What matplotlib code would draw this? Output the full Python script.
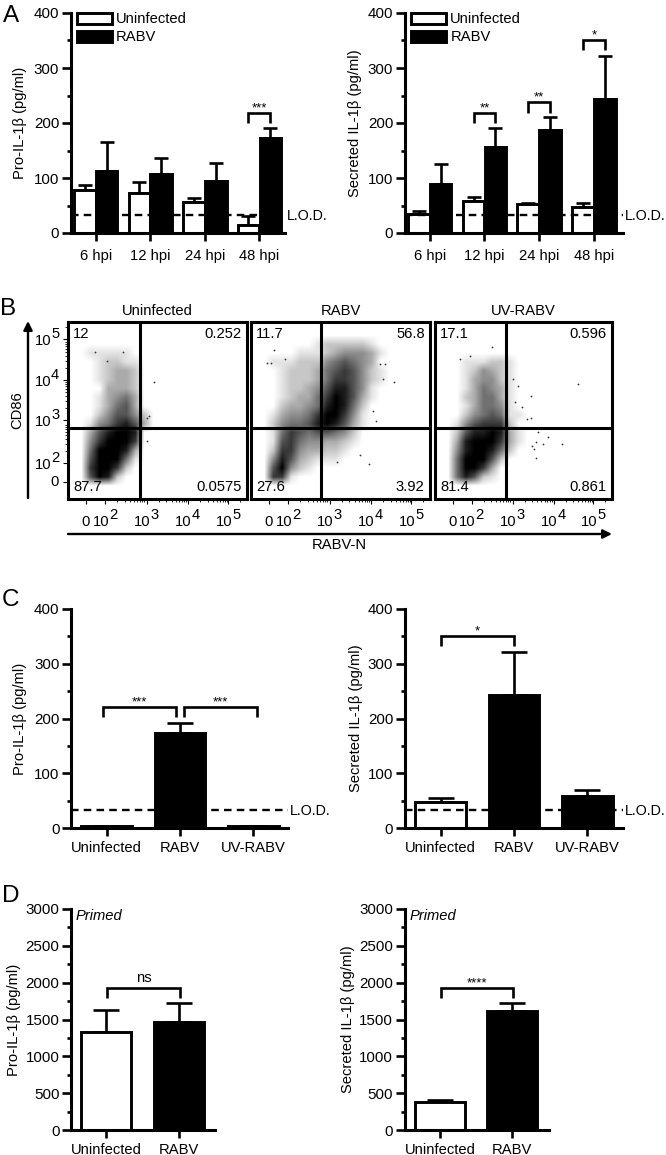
import numpy as np
import matplotlib
matplotlib.use("Agg")
import matplotlib.pyplot as plt
from matplotlib.patches import FancyArrowPatch

plt.rcParams['font.family'] = ['Liberation Sans', 'DejaVu Sans']
plt.rcParams['font.size'] = 10.6

W, H = 666, 1155
fig = plt.figure(figsize=(W / 100, H / 100), dpi=100)

#==Panel A==#
hpi = ["6 hpi", "12 hpi", "24 hpi", "48 hpi"]
a1_white = [78, 72, 57, 15]
a1_white_top = [87, 93, 63, 31]
a1_black = [113, 108, 95, 172]
a1_black_top = [166, 136, 127, 191]
a2_white = [35, 59, 53, 48]
a2_white_top = [40, 65, 54, 55]
a2_black = [90, 156, 187, 243]
a2_black_top = [126, 191, 210, 322]
lod = 33

#==Panel C==#
c_names = ["Uninfected", "RABV", "UV-RABV"]
c1_vals = [4, 173, 4]
c1_tops = [4, 192, 4]
c2_vals = [48, 243, 59]
c2_tops = [54, 322, 70]
c_fills = ["white", "black", "black"]

#==Panel D==#
d_names = ["Uninfected", "RABV"]
d1_vals = [1330, 1470]
d1_tops = [1635, 1720]
d2_vals = [385, 1610]
d2_tops = [410, 1720]
d_fills = ["white", "black"]

#==Panel B: darkness of the dot clouds, 0 white to 9 black==#
flow_titles = ["Uninfected", "RABV", "UV-RABV"]
flow_uninfected = [
    "0", "0", "0",
    "0011111", "00012211", "00012332", "00012332", "00003332",
    "00013453", "00013563", "000246642", "001457863",
    "00368998", "00479997", "00599983", "00699951", "0079972", "006982",
    "0", "0",
]
flow_rabv = [
    "0", "0",
    "00000001222221", "000001112344431", "00111222456543", "000122235676421",
    "000122235776421", "00012234688641", "00012335798631", "0002334589852",
    "00134457997410", "00245568986310",
    "00157656654200", "00167544332100", "00277433221000", "00486321110000", "0069421", "007710",
    "0", "0",
]
flow_uv = [
    "0", "0", "0", "0",
    "00011122100", "000124321", "000134421", "000135431",
    "000235531", "000135541", "0002456511", "00146777200",
    "002688983100", "003899973100", "0048998520", "005999620", "00599730", "00586210",
    "0", "0",
]
flow_quads = [
    ["12", "0.252", "87.7", "0.0575"],
    ["11.7", "56.8", "27.6", "3.92"],
    ["17.1", "0.596", "81.4", "0.861"],
]
flow_out_x = [
    [.48, .44, .45, .44, .31, .15, .22],
    [.80, .66, .13, .09, .11, .19, .72, .75, .74, .68, .70, .48, .61],
    [.81, .32, .20, .14, .54, .52, .58, .64, .72, .61, .57, .55, .56, .57, .44, .47, .49, .45, .54],
]
flow_out_y = [
    [.66, .46, .47, .33, .83, .83, .78],
    [.66, .20, .84, .77, .77, .79, .76, .76, .68, .50, .44, .21, .25],
    [.65, .86, .81, .79, .58, .45, .38, .35, .31, .31, .32, .30, .28, .23, .68, .64, .52, .55, .46],
]
flow_xticks = [.10, .207, .44, .67, .894]
flow_yticks = [.096, .203, .446, .672, .904]
flow_powers = ["2", "3", "4", "5"]


def px_axes(left, right, top, bottom):
    return fig.add_axes([left / W, 1 - bottom / H, (right - left) / W, (bottom - top) / H])


def style_axes(ax, ylabel, ymax, ystep, xlim, label_x):
    ax.set_xlim(*xlim)
    ax.set_ylim(0, ymax)
    ax.spines[['top', 'right']].set_visible(False)
    ax.spines[['left', 'bottom']].set_linewidth(2.2)
    ax.set_yticks(np.arange(0, ymax + 1, ystep))
    ax.set_yticks(np.arange(0, ymax + 1, ystep / 2), minor=True)
    ax.tick_params(axis='y', which='major', width=1.9, length=6.3, labelsize=10.9, pad=2)
    ax.tick_params(axis='y', which='minor', width=1.9, length=3)
    ax.tick_params(axis='x', width=1.9, length=6, labelsize=10.6, pad=3.5)
    ax.patch.set_alpha(0)
    pos = ax.get_position()
    fig.text(label_x / W, pos.y0 + pos.height / 2, ylabel, rotation=90, ha='center', va='center', fontsize=10.6)


def draw_bars(ax, x, vals, tops, fill, width, cap):
    bars = ax.bar(x, vals, width, color=fill, edgecolor='black', linewidth=2.1, zorder=2)
    low = np.zeros(len(vals))
    up = np.array(tops) - np.array(vals)
    ax.errorbar(x, vals, yerr=[low, up], fmt='none', ecolor='black', elinewidth=1.9,
                capsize=cap, capthick=1.9, zorder=1)
    return bars


def draw_lod(ax):
    ax.axhline(lod, color='black', lw=1.7, linestyle=(0, (3.2, 2.2)), zorder=3)
    ax.annotate("L.O.D.", (1, lod), xycoords=ax.get_yaxis_transform(), xytext=(2, -1),
                textcoords='offset pixels', va='center', ha='left', fontsize=10.3)


def bracket(ax, x0, x1, ytop, ylow, label, label_dy=0):
    ax.plot([x0, x0, x1, x1], [ylow, ytop, ytop, ylow], color='black', lw=1.9, zorder=4,
            solid_joinstyle='miter', solid_capstyle='butt')
    ax.annotate(label, ((x0 + x1) / 2, ytop), xytext=(0, label_dy), textcoords='offset pixels',
                ha='center', va='bottom', fontsize=10.6 if label == "ns" else 9.5, fontweight='normal')


#==Graficos do painel A==#
x = np.arange(4)
a_specs = [
    (70.7, 285, (-0.46, 3.47), 20, "Pro-IL-1β (pg/ml)", a1_white, a1_white_top, a1_black, a1_black_top),
    (404.7, 623, (-0.457, 3.53), 355, "Secreted IL-1β (pg/ml)", a2_white, a2_white_top, a2_black, a2_black_top),
]
a_axes = []
for left, right, xlim, lx, yl, wv, wt, bv, bt in a_specs:
    ax = px_axes(left, right, 13, 233)
    style_axes(ax, yl, 400, 100, xlim, lx)
    b1 = draw_bars(ax, x - 0.2, wv, wt, "white", 0.395, 4.7)
    b2 = draw_bars(ax, x + 0.2, bv, bt, "black", 0.395, 4.7)
    ax.set_xticks(x, hpi)
    ax.tick_params(axis='x', pad=5.5)
    draw_lod(ax)
    ax.legend([b1, b2], ["Uninfected", "RABV"], loc='upper left', bbox_to_anchor=(0.03, 1.003),
              frameon=False, borderpad=0, borderaxespad=0, handlelength=2.35, handleheight=0.8,
              handletextpad=0.3, labelspacing=0.28, fontsize=10.6)
    a_axes.append(ax)
bracket(a_axes[0], 2.8, 3.2, 218, 200, "***", -1)
bracket(a_axes[1], 0.8, 1.2, 218, 200, "**", -1)
bracket(a_axes[1], 1.8, 2.2, 238, 218, "**", -1)
bracket(a_axes[1], 2.8, 3.2, 351, 333, "*", -1)

#==Painel B==#
flow_lefts = [68, 251, 435]
flow_rights = [247, 430, 612]
flow_vlines = [.40, .39, .40]
flow_grids = [flow_uninfected, flow_rabv, flow_uv]
minor_steps = np.log10(np.arange(2, 10))
for i in range(3):
    ax = px_axes(flow_lefts[i], flow_rights[i], 322, 499)
    grid = np.array([[int(c) for c in row.ljust(20, "0")] for row in flow_grids[i]])
    ax.imshow(grid, extent=(0, 1, 0, 1), origin='upper', aspect='auto', cmap='gray_r',
              vmin=0, vmax=9, interpolation='bilinear', zorder=1)
    ax.scatter(flow_out_x[i], flow_out_y[i], s=1.6, color='#333333', linewidths=0, zorder=2)
    ax.axvline(flow_vlines[i], color='black', lw=2.2, zorder=3)
    ax.axhline(.40, color='black', lw=2.2, zorder=3)
    ax.set_xlim(0, 1)
    ax.set_ylim(0, 1)
    for sp in ax.spines.values():
        sp.set_linewidth(2.2)
    ax.set_xticks(flow_xticks, [])
    decade = flow_xticks[3] - flow_xticks[2]
    ax.set_xticks([t + decade * s for t in flow_xticks[1:] for s in minor_steps if t + decade * s < 1], minor=True)
    ax.tick_params(axis='x', which='major', length=3.5, width=0.8, direction='out')
    ax.tick_params(axis='x', which='minor', length=2, width=0.6, direction='out')
    ax.set_title(flow_titles[i], fontsize=10.6, pad=5)
    q = flow_quads[i]
    ax.text(.03, .97, q[0], ha='left', va='top', fontsize=10.6, zorder=4)
    ax.text(.97, .97, q[1], ha='right', va='top', fontsize=10.6, zorder=4)
    ax.text(.03, .03, q[2], ha='left', va='bottom', fontsize=10.6, zorder=4)
    ax.text(.97, .03, q[3], ha='right', va='bottom', fontsize=10.6, zorder=4)
    #==Etiquetas 10^n com expoente grande==#
    ax.annotate("0", (flow_xticks[0], 0), xycoords='axes fraction', xytext=(0, -23),
                textcoords='offset pixels', ha='center', va='center', fontsize=10.6)
    for t, p in zip(flow_xticks[1:], flow_powers):
        ax.annotate("10", (t, 0), xycoords='axes fraction', xytext=(4, -23), textcoords='offset pixels',
                    ha='right', va='center', fontsize=10.6)
        ax.annotate(p, (t, 0), xycoords='axes fraction', xytext=(4, -16), textcoords='offset pixels',
                    ha='left', va='center', fontsize=10.6)
    if i == 0:
        ax.set_yticks(flow_yticks, [])
        decade = flow_yticks[3] - flow_yticks[2]
        ax.set_yticks([t + decade * s for t in flow_yticks[1:] for s in minor_steps if t + decade * s < 1], minor=True)
        ax.tick_params(axis='y', which='major', length=3.5, width=0.8, direction='out')
        ax.tick_params(axis='y', which='minor', length=2, width=0.6, direction='out')
        ax.annotate("0", (0, flow_yticks[0]), xycoords='axes fraction', xytext=(-9, 0),
                    textcoords='offset pixels', ha='right', va='center', fontsize=10.6)
        for t, p in zip(flow_yticks[1:], flow_powers):
            ax.annotate("10", (0, t), xycoords='axes fraction', xytext=(-17, -2), textcoords='offset pixels',
                        ha='right', va='center', fontsize=10.6)
            ax.annotate(p, (0, t), xycoords='axes fraction', xytext=(-17, 5), textcoords='offset pixels',
                        ha='left', va='center', fontsize=10.6)
    else:
        ax.set_yticks([])

fig.add_artist(FancyArrowPatch((28 / W, 1 - 498 / H), (28 / W, 1 - 321 / H), transform=fig.transFigure,
                               arrowstyle='-|>', mutation_scale=13, color='black', lw=1.7, shrinkA=0, shrinkB=0))
fig.add_artist(FancyArrowPatch((68 / W, 1 - 534 / H), (612 / W, 1 - 534 / H), transform=fig.transFigure,
                               arrowstyle='-|>', mutation_scale=13, color='black', lw=1.7, shrinkA=0, shrinkB=0))
fig.text(17 / W, 1 - 410 / H, "CD86", rotation=90, ha='center', va='center', fontsize=10.6)
fig.text(339 / W, 1 - 545 / H, "RABV-N", ha='center', va='center', fontsize=10.6)

#==Painel C==#
x = np.arange(3)
ax = px_axes(71, 288, 609, 828)
style_axes(ax, "Pro-IL-1β (pg/ml)", 400, 100, (-0.486, 2.47), 20)
draw_bars(ax, x, c1_vals, c1_tops, c_fills, 0.69, 9.4)
ax.set_xticks(x, c_names)
draw_lod(ax)
bracket(ax, -0.05, 0.95, 221, 203, "***", -1)
bracket(ax, 1.05, 2.05, 221, 203, "***", -1)

ax = px_axes(404.7, 623, 609, 828)
style_axes(ax, "Secreted IL-1β (pg/ml)", 400, 100, (-0.49, 2.487), 356)
draw_bars(ax, x, c2_vals, c2_tops, c_fills, 0.69, 9.4)
ax.set_xticks(x, c_names)
draw_lod(ax)
bracket(ax, 0, 1, 350, 332, "*", -1)

#==Painel D==#
x = np.arange(2)
ax = px_axes(71, 215, 909, 1130)
style_axes(ax, "Pro-IL-1β (pg/ml)", 3000, 500, (-0.48, 1.49), 14)
draw_bars(ax, x, d1_vals, d1_tops, d_fills, 0.69, 9.4)
ax.set_xticks(x, d_names)
ax.text(5 / 144, 0.968, "Primed", transform=ax.transAxes, style='italic', ha='left', va='center', fontsize=10.6)
bracket(ax, 0.01, 1.01, 1928, 1795, "ns", 3)

ax = px_axes(404.7, 549, 909, 1130)
style_axes(ax, "Secreted IL-1β (pg/ml)", 3000, 500, (-0.49, 1.51), 348)
draw_bars(ax, x, d2_vals, d2_tops, d_fills, 0.69, 9.4)
ax.set_xticks(x, d_names)
ax.text(5 / 144, 0.968, "Primed", transform=ax.transAxes, style='italic', ha='left', va='center', fontsize=10.6)
bracket(ax, 0.01, 1.01, 1928, 1795, "****", -1)

#==Letras dos paineis==#
for letter, lx, ly in [("A", 3, 22), ("B", 0, 315), ("C", 2, 606), ("D", 2, 902)]:
    fig.text(lx / W, 1 - ly / H, letter, ha='left', va='baseline', fontsize=17.5)

fig.savefig("out.png", dpi=100)
